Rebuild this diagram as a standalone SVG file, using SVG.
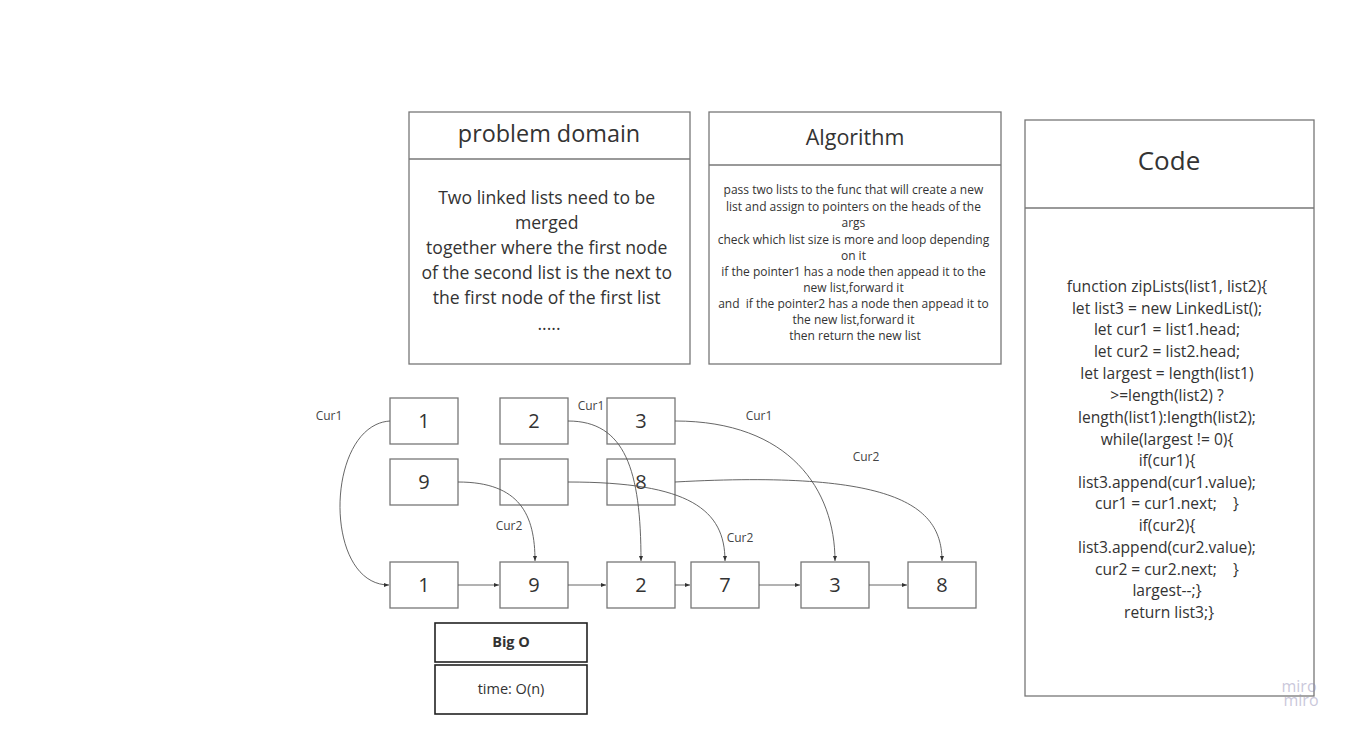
<svg xmlns="http://www.w3.org/2000/svg" width="1355" height="737" viewBox="0 0 1355 737">
<defs>
<style>
.box{fill:#fff;stroke:#777;stroke-width:1.3}
.t{font-family:"Open Sans","Liberation Sans",sans-serif;fill:#333;text-anchor:middle}
.c{fill:none;stroke:#555;stroke-width:0.9}
.lbl{font-family:"Open Sans","Liberation Sans",sans-serif;fill:#444;font-size:12px;text-anchor:middle}
</style>
<marker id="ah" viewBox="0 0 10 10" refX="10" refY="5" markerWidth="5" markerHeight="5" orient="auto" markerUnits="userSpaceOnUse">
<path d="M0,1 L10,5 L0,9 z" fill="#333"/>
</marker>
</defs>
<rect width="1355" height="737" fill="#fff"/>

<g id="problem-domain">
<rect class="box" x="409" y="112" width="281" height="252"/>
<line x1="409" y1="159" x2="690" y2="159" stroke="#777" stroke-width="1.3"/>
<text class="t" x="549" y="142" font-size="23.4">problem domain</text>
<text class="t" font-size="17.6">
<tspan x="549" y="204">Two linked lists need to be</tspan>
<tspan x="549" y="229">merged</tspan>
<tspan x="549" y="254">together where the first node</tspan>
<tspan x="549" y="279">of the second list is the next to</tspan>
<tspan x="549" y="304">the first node of the first list</tspan>
<tspan x="549" y="330">.....</tspan>
</text>
</g>

<g id="algorithm">
<rect class="box" x="709" y="112" width="292" height="252"/>
<line x1="709" y1="165" x2="1001" y2="165" stroke="#777" stroke-width="1.3"/>
<text class="t" x="855" y="145" font-size="21.5">Algorithm</text>
<text class="t" font-size="12">
<tspan x="855" y="194">pass two lists to the func that will create a new</tspan>
<tspan x="855" y="211">list and assign to pointers on the heads of the</tspan>
<tspan x="855" y="227">args</tspan>
<tspan x="855" y="244">check which list size is more and loop depending</tspan>
<tspan x="855" y="260">on it</tspan>
<tspan x="855" y="276">if the pointer1 has a node then appead it to the</tspan>
<tspan x="855" y="292">new list,forward it</tspan>
<tspan x="855" y="308" xml:space="preserve">and  if the pointer2 has a node then appead it to</tspan>
<tspan x="855" y="324">the new list,forward it</tspan>
<tspan x="855" y="340">then return the new list</tspan>
</text>
</g>

<g id="code">
<rect class="box" x="1025" y="120" width="289" height="576"/>
<line x1="1025" y1="208" x2="1314" y2="208" stroke="#777" stroke-width="1.3"/>
<text class="t" x="1169" y="170" font-size="26">Code</text>
<text class="t" font-size="15.6">
<tspan x="1169" y="292">function zipLists(list1, list2){</tspan>
<tspan x="1169" y="314">let list3 = new LinkedList();</tspan>
<tspan x="1169" y="335">let cur1 = list1.head;</tspan>
<tspan x="1169" y="357">let cur2 = list2.head;</tspan>
<tspan x="1169" y="379">let largest = length(list1)</tspan>
<tspan x="1169" y="401">&gt;=length(list2) ?</tspan>
<tspan x="1169" y="423">length(list1):length(list2);</tspan>
<tspan x="1169" y="445">while(largest != 0){</tspan>
<tspan x="1169" y="466">if(cur1){</tspan>
<tspan x="1169" y="488">list3.append(cur1.value);</tspan>
<tspan x="1169" y="509" xml:space="preserve">cur1 = cur1.next;    }</tspan>
<tspan x="1169" y="531">if(cur2){</tspan>
<tspan x="1169" y="553">list3.append(cur2.value);</tspan>
<tspan x="1169" y="575" xml:space="preserve">cur2 = cur2.next;    }</tspan>
<tspan x="1169" y="596">largest--;}</tspan>
<tspan x="1169" y="618">return list3;}</tspan>
</text>
</g>

<g id="list1-n1"><rect class="box" x="390" y="398" width="68" height="46"/><text class="t" x="424" y="428" font-size="20">1</text></g>
<g id="list1-n2"><rect class="box" x="500" y="398" width="68" height="46"/><text class="t" x="534" y="428" font-size="20">2</text></g>
<g id="list1-n3"><rect class="box" x="607" y="398" width="68" height="46"/><text class="t" x="641" y="428" font-size="20">3</text></g>
<g id="list2-n1"><rect class="box" x="390" y="459" width="68" height="46"/><text class="t" x="424" y="489" font-size="20">9</text></g>
<g id="list2-n2"><rect class="box" x="500" y="459" width="68" height="46"/></g>
<g id="list2-n3"><rect class="box" x="607" y="459" width="68" height="46"/><text class="t" x="641" y="489" font-size="20">8</text></g>

<g id="res-1"><rect class="box" x="390" y="562" width="68" height="46"/><text class="t" x="424" y="592" font-size="20">1</text></g>
<g id="res-9"><rect class="box" x="500" y="562" width="68" height="46"/><text class="t" x="534" y="592" font-size="20">9</text></g>
<g id="res-2"><rect class="box" x="607" y="562" width="68" height="46"/><text class="t" x="641" y="592" font-size="20">2</text></g>
<g id="res-7"><rect class="box" x="691" y="562" width="68" height="46"/><text class="t" x="725" y="592" font-size="20">7</text></g>
<g id="res-3"><rect class="box" x="801" y="562" width="68" height="46"/><text class="t" x="835" y="592" font-size="20">3</text></g>
<g id="res-8"><rect class="box" x="908" y="562" width="68" height="46"/><text class="t" x="942" y="592" font-size="20">8</text></g>

<g id="connectors">
<path class="c" d="M390,421 C325,425 322,585 389,585" marker-end="url(#ah)"/>
<path class="c" d="M568,421 C625,421 641,470 641,561" marker-end="url(#ah)"/>
<path class="c" d="M675,421 C790,421 835,490 835,561" marker-end="url(#ah)"/>
<path class="c" d="M458,482 C520,482 535,515 535,561" marker-end="url(#ah)"/>
<path class="c" d="M568,482 C690,482 725,510 725,561" marker-end="url(#ah)"/>
<path class="c" d="M675,482 C895,470 942,505 942,561" marker-end="url(#ah)"/>
<line class="c" x1="458" y1="585" x2="499" y2="585" marker-end="url(#ah)"/>
<line class="c" x1="568" y1="585" x2="606" y2="585" marker-end="url(#ah)"/>
<line class="c" x1="675" y1="585" x2="690" y2="585" marker-end="url(#ah)"/>
<line class="c" x1="759" y1="585" x2="800" y2="585" marker-end="url(#ah)"/>
<line class="c" x1="869" y1="585" x2="907" y2="585" marker-end="url(#ah)"/>
</g>

<g id="labels">
<text class="lbl" x="329" y="420">Cur1</text>
<text class="lbl" x="591" y="410">Cur1</text>
<text class="lbl" x="759" y="420">Cur1</text>
<text class="lbl" x="866" y="461">Cur2</text>
<text class="lbl" x="509" y="530">Cur2</text>
<text class="lbl" x="740" y="542">Cur2</text>
</g>

<g id="big-o">
<rect x="435" y="623" width="152" height="39" fill="#fff" stroke="#222" stroke-width="1.6"/>
<text class="t" x="511" y="647" font-size="14.5" font-weight="bold" fill="#111">Big O</text>
<rect x="435" y="665" width="152" height="49" fill="#fff" stroke="#222" stroke-width="1.6"/>
<text class="t" x="511" y="694" font-size="14.5">time: O(n)</text>
</g>

<g id="watermark" opacity="0.45">
<text x="1299" y="692" font-family="Open Sans, Liberation Sans, sans-serif" font-size="16" fill="#8a86b0" text-anchor="middle">miro</text>
<text x="1301" y="706" font-family="Open Sans, Liberation Sans, sans-serif" font-size="16" fill="#8a86b0" text-anchor="middle">miro</text>
</g>
</svg>
